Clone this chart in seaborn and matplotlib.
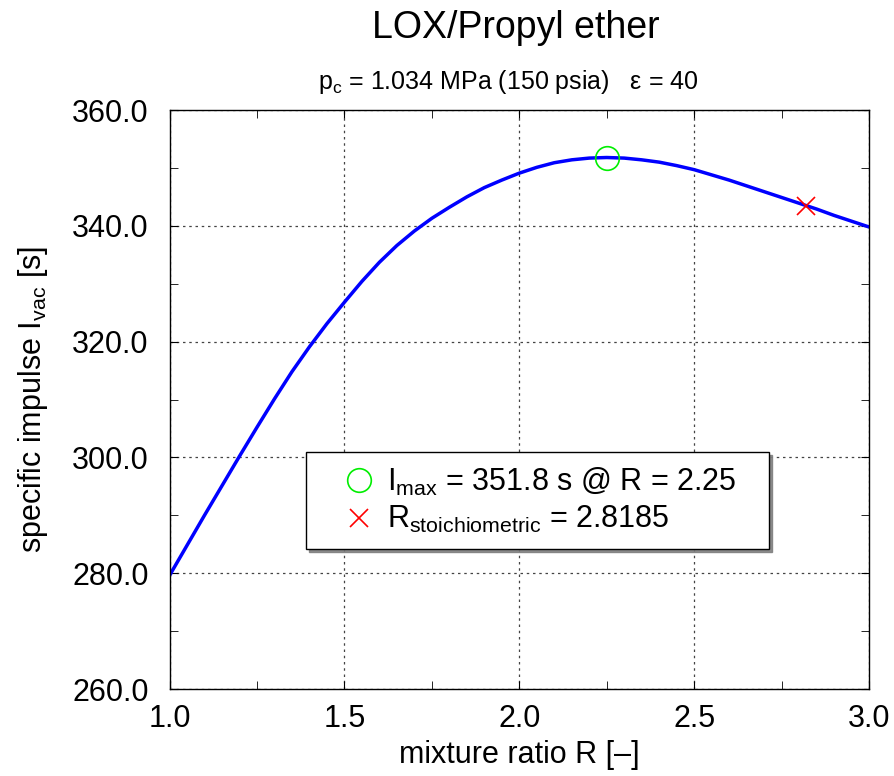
import numpy as np
import pandas as pd
import matplotlib
matplotlib.use("Agg")
import matplotlib.pyplot as plt
from matplotlib.ticker import MultipleLocator, FormatStrFormatter
import seaborn as sns

# Données
ratio_R = [1.0, 1.05, 1.1, 1.15, 1.2, 1.25, 1.3, 1.35, 1.4, 1.45, 1.5,
           1.55, 1.6, 1.65, 1.7, 1.75, 1.8, 1.85, 1.9, 1.95, 2.0,
           2.05, 2.1, 2.15, 2.2, 2.25, 2.3, 2.35, 2.4, 2.45, 2.5,
           2.55, 2.6, 2.65, 2.7, 2.75, 2.8, 2.85, 2.9, 2.95, 3.0]
isp_vac = [279.6, 284.8, 290.0, 295.1, 300.2, 305.2, 310.1, 314.8, 319.1, 323.1, 326.8,
           330.4, 333.7, 336.6, 339.1, 341.3, 343.2, 345.0, 346.6, 347.9, 349.1,
           350.1, 350.9, 351.4, 351.7, 351.8, 351.7, 351.4, 351.0, 350.4, 349.7,
           348.8, 347.9, 346.9, 345.9, 344.9, 343.9, 342.9, 341.8, 340.8, 339.8]

R_max = 2.25
I_max = 351.8
R_stoich = 2.8185
I_stoich = 343.4

sns.set_style("ticks")
plt.rcParams['font.family'] = ['Liberation Sans', 'DejaVu Sans']
plt.rcParams['mathtext.fontset'] = 'custom'
plt.rcParams['mathtext.rm'] = 'Liberation Sans'
plt.rcParams['text.color'] = 'black'
plt.rcParams['axes.labelcolor'] = 'black'
plt.rcParams['xtick.color'] = 'black'
plt.rcParams['ytick.color'] = 'black'

df = pd.DataFrame({"R": ratio_R, "Isp": isp_vac})

fig = plt.figure(figsize=(8.94, 7.76), dpi=100)
ax = fig.add_axes([0.1896, 0.1121, 0.7825, 0.7461])

sns.lineplot(data=df, x="R", y="Isp", color="#0000ff", linewidth=2.5, ax=ax)
ax.plot([R_max], [I_max], linestyle="none", marker="o", markersize=17,
        markerfacecolor="none", markeredgecolor="#00ee00", markeredgewidth=1.2,
        label=r"$\mathregular{I_{max}}$ = 351.8 s @ R = 2.25   ")
ax.plot([R_stoich], [I_stoich], linestyle="none", marker="x", markersize=13,
        color="#ff0000", markeredgewidth=1.2,
        label=r"$\mathregular{R_{stoichiometric}}$ = 2.8185")

ax.set_xlim(1.0, 3.0)
ax.set_ylim(260, 360)
ax.xaxis.set_major_locator(MultipleLocator(0.5))
ax.xaxis.set_minor_locator(MultipleLocator(0.25))
ax.yaxis.set_major_locator(MultipleLocator(20))
ax.yaxis.set_minor_locator(MultipleLocator(10))
ax.xaxis.set_major_formatter(FormatStrFormatter("%.1f"))
ax.yaxis.set_major_formatter(FormatStrFormatter("%.1f"))
ax.tick_params(which="both", direction="in", top=True, right=True,
               labelsize=22, color="black", labelcolor="black")
ax.tick_params(which="both", length=6)
ax.tick_params(axis="x", which="major", pad=11)
ax.tick_params(axis="y", which="major", pad=15)
ax.grid(True, which="major", linestyle=(0, (2, 3)), color="#444444", linewidth=0.9)
for sp in ax.spines.values():
    sp.set_color("black")
    sp.set_linewidth(1.0)

ax.set_xlabel("mixture ratio R [–]", fontsize=22)
ax.set_ylabel(r"specific impulse $\mathregular{I_{vac}}$ [s]", fontsize=22)
ax.xaxis.set_label_coords(0.5, -0.088)
ax.yaxis.set_label_coords(-0.171, 0.5)

fig.text(0.577, 0.964, "LOX/Propyl ether", fontsize=27, ha="center", va="center")
fig.text(0.569, 0.894, r"$\mathregular{p_c}$ = 1.034 MPa (150 psia)   ε = 40",
         fontsize=18, ha="center", va="center")

leg = ax.legend(loc="center", bbox_to_anchor=(0.526, 0.325), fontsize=22,
                fancybox=False, frameon=True, framealpha=1, edgecolor="black",
                shadow={"ox": 2, "oy": -2, "color": "gray", "alpha": 0.9},
                borderpad=0.45, handlelength=2.58, handletextpad=-0.37,
                labelspacing=0.2)
leg.get_frame().set_linewidth(1.0)

fig.savefig("out.png", dpi=100)
